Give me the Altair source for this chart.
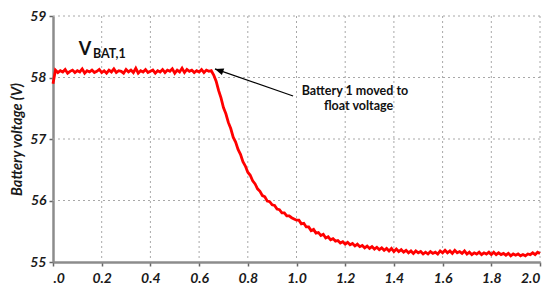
import altair as alt
import pandas as pd

time_step = 0.01
voltage = [
    57.90,
    58.12, 58.08, 58.11, 58.09, 58.13, 58.07, 58.10, 58.12, 58.08, 58.11,
    58.09, 58.14, 58.07, 58.11, 58.09, 58.12, 58.08, 58.10, 58.13, 58.08,
    58.11, 58.07, 58.12, 58.09, 58.14, 58.08, 58.11, 58.10, 58.07, 58.13,
    58.09, 58.12, 58.08, 58.15, 58.07, 58.11, 58.09, 58.13, 58.08, 58.10,
    58.12, 58.07, 58.11, 58.09, 58.13, 58.08, 58.12, 58.10, 58.14, 58.07,
    58.12, 58.09, 58.15, 58.08, 58.13, 58.10, 58.12, 58.08, 58.11, 58.09,
    58.13, 58.08, 58.12, 58.10, 58.11,
    58.04, 57.94, 57.79, 57.67, 57.51, 57.41, 57.27, 57.17, 57.03, 56.95,
    56.83, 56.75, 56.63, 56.56, 56.46, 56.41, 56.32, 56.27, 56.19, 56.15,
    56.08, 56.06, 55.99, 55.98, 55.93, 55.92, 55.86, 55.85, 55.80, 55.80,
    55.75, 55.75, 55.72, 55.70, 55.68,
    55.68, 55.62, 55.63, 55.57, 55.57, 55.51, 55.53, 55.47, 55.48, 55.43,
    55.45, 55.39, 55.41, 55.36, 55.38, 55.34, 55.35, 55.31, 55.33, 55.29,
    55.32, 55.28, 55.30, 55.26, 55.29, 55.25, 55.27, 55.23, 55.26, 55.22,
    55.25, 55.21, 55.24, 55.20, 55.23, 55.19, 55.22, 55.18, 55.22, 55.17,
    55.21, 55.17, 55.20, 55.16, 55.19, 55.15, 55.18, 55.14, 55.18, 55.15,
    55.17, 55.13, 55.16, 55.13, 55.17, 55.14, 55.16, 55.13, 55.18, 55.15,
    55.19, 55.15, 55.18, 55.14, 55.19, 55.15, 55.17, 55.14, 55.18, 55.13,
    55.16, 55.12, 55.15, 55.13, 55.16, 55.12, 55.15, 55.13, 55.16, 55.12,
    55.16, 55.12, 55.15, 55.12, 55.14, 55.11, 55.14, 55.10, 55.13, 55.11,
    55.13, 55.10, 55.12, 55.10, 55.13, 55.12, 55.15, 55.12, 55.16, 55.14,
]
times = [round(i * time_step, 2) for i in range(len(voltage))]

x_grid = [0.2, 0.4, 0.6, 0.8, 1.0, 1.2, 1.4, 1.6, 1.8, 2.0]
y_grid = [56, 57, 58, 59]
x_ticks = [round(i * 0.1, 1) for i in range(21)]
y_ticks = [55, 55.5, 56, 56.5, 57, 57.5, 58, 58.5, 59]

# annotations (data coordinates)
label_main = ["V"]
label_main_pos = [(0.131, 58.365)]
label_sub = ["BAT,1"]
label_sub_pos = [(0.164, 58.317)]
note_lines = ["Battery 1 moved to", "float voltage"]
note_pos = [(1.24, 57.714), (1.255, 57.476)]
arrow_start = (0.986, 57.70)
arrow_tip = (0.665, 58.14)

FONT = "Lato"
xs = alt.Scale(domain=[0, 2], nice=False, zero=False)
ys = alt.Scale(domain=[55, 59], nice=False, zero=False)

df = pd.DataFrame({"t": times, "v": voltage})

grid_x = alt.Chart(pd.DataFrame({"x": x_grid})).mark_rule(
    color="#a8a8a8", strokeDash=[2, 3], strokeWidth=1
).encode(x=alt.X("x:Q", scale=xs))
grid_y = alt.Chart(pd.DataFrame({"y": y_grid})).mark_rule(
    color="#a8a8a8", strokeDash=[2, 3], strokeWidth=1
).encode(y=alt.Y("y:Q", scale=ys))

line = alt.Chart(df).mark_line(color="#ff0000", strokeWidth=2.8).encode(
    x=alt.X(
        "t:Q",
        scale=xs,
        title=None,
        axis=alt.Axis(
            values=x_ticks,
            labelExpr="round(datum.value*10) % 2 == 0 ? (datum.value == 0 ? '.0' : format(datum.value, '.1f')) : ''",
            grid=False,
            domainColor="#8c8c8c",
            domainWidth=2.5,
            tickColor="#666666",
            tickSize=4,
            tickWidth=1.5,
            labelFont=FONT,
            labelFontSize=14,
            labelFontWeight="bold",
            labelFontStyle="italic",
            labelColor="#1a1a1a",
            labelPadding=5,
        ),
    ),
    y=alt.Y(
        "v:Q",
        scale=ys,
        title="Battery voltage (V)",
        axis=alt.Axis(
            values=y_ticks,
            labelExpr="datum.value % 1 == 0 ? format(datum.value, 'd') : ''",
            grid=False,
            domainColor="#8c8c8c",
            domainWidth=2.5,
            tickColor="#666666",
            tickSize=4,
            tickWidth=1.5,
            labelFont=FONT,
            labelFontSize=14,
            labelFontWeight="bold",
            labelFontStyle="italic",
            labelColor="#1a1a1a",
            labelPadding=3,
            titleFont=FONT,
            titleFontSize=14.5,
            titleFontWeight="bold",
            titleFontStyle="italic",
            titleColor="#1a1a1a",
            titlePadding=5,
        ),
    ),
)

vmain = alt.Chart(pd.DataFrame({"x": [p[0] for p in label_main_pos], "y": [p[1] for p in label_main_pos], "s": label_main})).mark_text(
    font=FONT, fontSize=18, fontWeight="bold", color="#111111", align="center", baseline="alphabetic"
).encode(x=alt.X("x:Q", scale=xs), y=alt.Y("y:Q", scale=ys), text="s:N")

vsub = alt.Chart(pd.DataFrame({"x": [p[0] for p in label_sub_pos], "y": [p[1] for p in label_sub_pos], "s": label_sub})).mark_text(
    font=FONT, fontSize=12.5, fontWeight="bold", color="#111111", align="left", baseline="alphabetic"
).encode(x=alt.X("x:Q", scale=xs), y=alt.Y("y:Q", scale=ys), text="s:N")

note = alt.Chart(pd.DataFrame({"x": [p[0] for p in note_pos], "y": [p[1] for p in note_pos], "s": note_lines})).mark_text(
    font=FONT, fontSize=12.5, fontWeight="bold", color="#111111", align="center", baseline="alphabetic"
).encode(x=alt.X("x:Q", scale=xs), y=alt.Y("y:Q", scale=ys), text="s:N")

arrow_df = pd.DataFrame({"x": [arrow_start[0]], "y": [arrow_start[1]], "x2": [arrow_tip[0]], "y2": [arrow_tip[1]]})
arrow_line = alt.Chart(arrow_df).mark_rule(color="#000000", strokeWidth=1.2).encode(
    x=alt.X("x:Q", scale=xs), y=alt.Y("y:Q", scale=ys), x2="x2:Q", y2="y2:Q"
)
head = alt.Chart(pd.DataFrame({"x": [arrow_tip[0]], "y": [arrow_tip[1]]})).mark_point(
    shape="M0,0L-0.4,1L0.4,1Z", filled=True, color="#000000", opacity=1, size=300, angle=290
).encode(x=alt.X("x:Q", scale=xs), y=alt.Y("y:Q", scale=ys))

chart = alt.layer(grid_x, grid_y, line, vmain, vsub, note, arrow_line, head).properties(
    width=487,
    height=246,
    autosize=alt.AutoSizeParams(type="none"),
    padding={"left": 45, "top": 8, "right": 2, "bottom": 30},
    background="white",
).configure_view(stroke=None)

chart.save("out.html", embed_options={"renderer": "svg", "actions": False})
